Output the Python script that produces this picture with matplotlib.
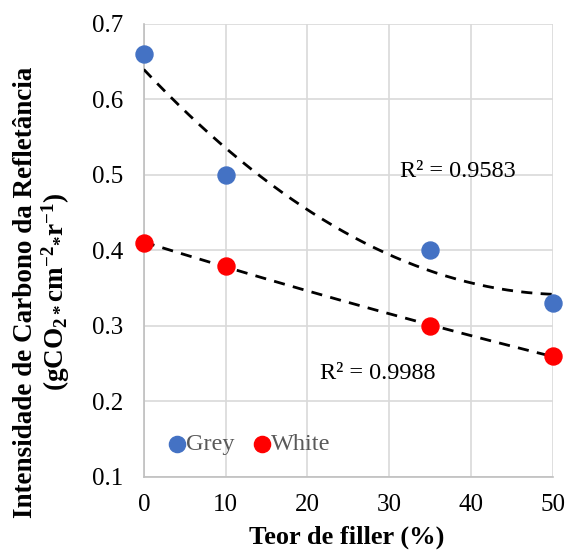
import numpy as np
import matplotlib
matplotlib.use("Agg")
import matplotlib.pyplot as plt

plt.rcParams['font.family'] = ['Liberation Serif', 'DejaVu Serif']
plt.rcParams['mathtext.fontset'] = 'custom'
plt.rcParams['mathtext.rm'] = 'Liberation Serif:bold'
plt.rcParams['mathtext.it'] = 'Liberation Serif:bold'
plt.rcParams['mathtext.bf'] = 'Liberation Serif:bold'

# data
filler = [0, 10, 35, 50]
grey = [0.66, 0.50, 0.40, 0.33]
white = [0.41, 0.38, 0.30, 0.26]
r2_grey = "R² = 0.9583"
r2_white = "R² = 0.9988"

fig = plt.figure(figsize=(5.66, 5.54), dpi=100)
ax = fig.add_axes([0.254, 0.139, 0.723, 0.818])

# polynomial (order 2) trendlines like excel
xs = np.linspace(0, 50, 200)
for ys in (grey, white):
	p = np.polyfit(filler, ys, 2)
	ax.plot(xs, np.polyval(p, xs), "--", color="black", lw=2, dashes=(4, 3), zorder=3)

ax.scatter(filler, grey, s=150, color="#4472C4", label="Grey", zorder=4, clip_on=False)
ax.scatter(filler, white, s=150, color="#FF0000", label="White", zorder=4, clip_on=False)

ax.text(31.3, 0.504, r2_grey, fontsize=17.5, va="center")
ax.text(21.5, 0.237, r2_white, fontsize=17.5, va="center")

ax.set_xlim(0, 50)
ax.set_ylim(0.1, 0.7)
ax.set_xticks(np.arange(0, 51, 10))
ax.set_yticks(np.arange(0.1, 0.71, 0.1))
ax.set_yticklabels(["%.1f" % v for v in np.arange(0.1, 0.71, 0.1)])
ax.grid(True, color="#d9d9d9", lw=1.2)
ax.set_axisbelow(True)
for s in ["top", "right"]:
	ax.spines[s].set_visible(False)
for s in ["left", "bottom"]:
	ax.spines[s].set_color("#bfbfbf")
	ax.spines[s].set_linewidth(1.2)
ax.tick_params(length=0, labelsize=18)
ax.tick_params(axis="y", pad=15)
ax.tick_params(axis="x", pad=12)

fig.text(0.613, 0.031, "Teor de filler (%)", fontsize=19, fontweight="bold", ha="center", va="center")
fig.text(0.075, 0.473, "Intensidade de Carbono da Refletância\n(gCO$_{2*}$cm$^{-2}$$_{*}$r$^{-1}$)",
	fontsize=19.5, fontweight="bold", rotation=90, ha="center", va="center",
	multialignment="center", linespacing=1.05)

ax.legend(loc="center left", bbox_to_anchor=(0.045, 0.073), ncol=2, frameon=False, fontsize=17.5,
	handletextpad=-0.2, columnspacing=0.5, handlelength=1.2, markerscale=0.95,
	labelcolor="#595959", borderpad=0, borderaxespad=0)

plt.savefig("out.png", dpi=100)
